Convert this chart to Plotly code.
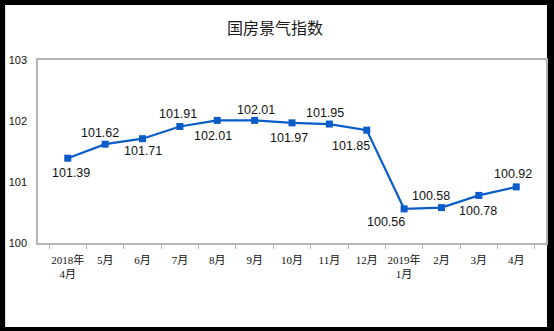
import plotly.graph_objects as go

# 国房景气指数 monthly readings
months = ["2018年<br>4月", "5月", "6月", "7月", "8月", "9月", "10月", "11月", "12月",
          "2019年<br>1月", "2月", "3月", "4月"]
index_values = [101.39, 101.62, 101.71, 101.91, 102.01, 102.01, 101.97, 101.95, 101.85,
                100.56, 100.58, 100.78, 100.92]
y_ticks = [100, 101, 102, 103]

# label offsets (pixels) relative to each marker: right / down
label_dx = [3, -5, 0, -2, -4, 1.5, -3, -4, -16, -18, -10, -1, -3]
label_dy = [15, -11, 12, -12, 16, -10, 15.5, -10.6, 15.8, 13, -11.5, 15.3, -13]

W, H = 554, 331
ML, MR, MT, MB = 38, 6, 60, 88
pw, ph = W - ML - MR, H - MT - MB

line_color = "#0A5CC8"
axis_gray = "#B4B4B4"

fig = go.Figure()
fig.add_trace(go.Scatter(
    x=months, y=index_values, mode="lines+markers",
    line=dict(color=line_color, width=2.2),
    marker=dict(symbol="square", size=7, color=line_color),
    hoverinfo="x+y", showlegend=False,
))

for m, v, dx, dy in zip(months, index_values, label_dx, label_dy):
    fig.add_annotation(
        x=m, y=v, text=f"{v:.2f}", showarrow=False,
        xshift=dx, yshift=-dy, xanchor="center", yanchor="middle",
        font=dict(family="Liberation Sans, Arial, sans-serif", size=12.5, color="#111"),
    )

# white page inside a dark frame
fig.add_shape(
    type="rect", xref="paper", yref="paper", layer="below",
    x0=(5 - ML) / pw, x1=(549 - ML) / pw,
    y0=-(327 - (MT + ph)) / ph, y1=1 + (MT - 5) / ph,
    fillcolor="white", line=dict(width=0),
)

fig.update_layout(
    width=W, height=H,
    margin=dict(l=ML, r=MR, t=MT, b=MB),
    paper_bgcolor="black", plot_bgcolor="white",
    title=dict(
        text="国房景气指数", xref="container", yref="container",
        x=275 / W, y=1 - 28 / H, xanchor="center", yanchor="middle",
        font=dict(family="Noto Sans CJK SC, sans-serif", size=16, color="#1a1a1a"),
    ),
    xaxis=dict(
        type="category", tickson="boundaries", ticks="outside", ticklen=4,
        tickcolor=axis_gray, showline=True, linecolor=axis_gray, linewidth=1.5,
        mirror=True, showgrid=False, ticklabelstandoff=6, tickangle=0,
        tickfont=dict(family="Liberation Serif, Noto Sans CJK SC, serif", size=11, color="#111"),
    ),
    yaxis=dict(
        range=[100, 103], tickvals=y_ticks, ticks="", showgrid=False, zeroline=False,
        showline=True, linecolor=axis_gray, linewidth=1.5, mirror=True,
        ticklabelstandoff=7,
        tickfont=dict(family="Liberation Sans, Arial, sans-serif", size=11, color="#111"),
    ),
)

fig.write_html("out.html")
